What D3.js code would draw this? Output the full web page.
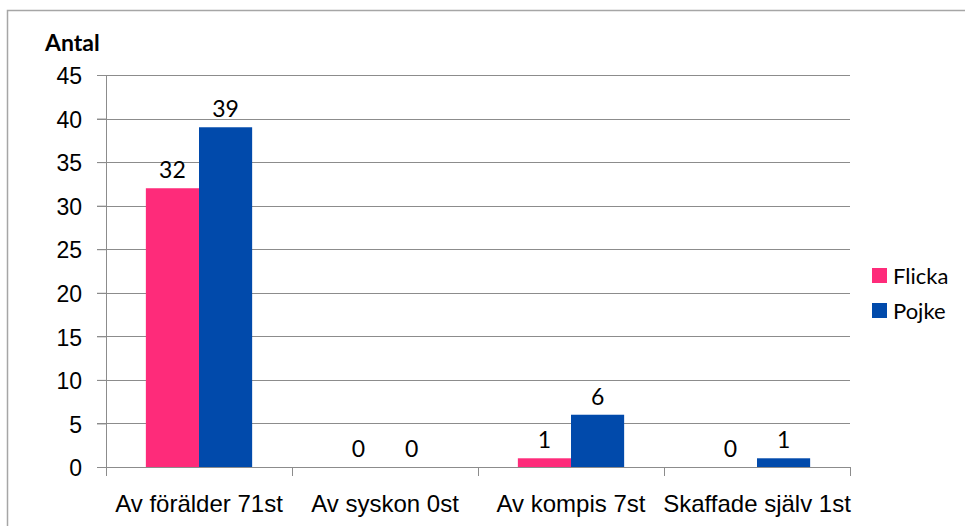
<!DOCTYPE html>
<html>
<head>
<meta charset="utf-8">
<script src="https://cdn.jsdelivr.net/npm/d3@7"></script>
<style>
  body { margin: 0; background: #fff; }
  svg { display: block; font-family: Lato, "Open Sans", sans-serif; }
</style>
</head>
<body>
<svg id="chart" width="965" height="526"></svg>
<script>
"use strict"

const categories = ["Av förälder 71st", "Av syskon 0st", "Av kompis 7st", "Skaffade själv 1st"]
const seriesNames = ["Flicka", "Pojke"]
const flicka = [32, 0, 1, 0]
const pojke = [39, 0, 6, 1]
const yTicks = [0, 5, 10, 15, 20, 25, 30, 35, 40, 45]
const colors = ["#fe2b7a", "#014aab"]

const svg = d3.select("#chart")
const margin = {left: 106, top: 75, right: 115, bottom: 59}
const width = 965 - margin.left - margin.right
const height = 526 - margin.top - margin.bottom

// outer chart border
svg.append("rect")
    .attr("x", 7.5).attr("y", 10.5)
    .attr("width", 970).attr("height", 530)
    .attr("fill", "none").attr("stroke", "#a6a6a6").attr("stroke-width", 1.5)

const g = svg.append("g").attr("transform", "translate(" + margin.left + "," + margin.top + ")")

const x = d3.scaleBand().domain(categories).range([0, width]).paddingInner(0).paddingOuter(0)
const y = d3.scaleLinear().domain([0, 45]).range([height, 0])

const inner = d3.scaleBand().domain(seriesNames).range([0, x.bandwidth()]).paddingInner(0).paddingOuter(0.75)

// gridlines
g.append("g")
    .selectAll("line")
    .data(yTicks.filter(d => d > 0))
    .join("line")
    .attr("x1", -9).attr("x2", width)
    .attr("y1", d => Math.round(y(d)) + 0.5).attr("y2", d => Math.round(y(d)) + 0.5)
    .attr("stroke", "#8c8c8c").attr("stroke-width", 1)

// y axis
const yAxis = g.append("g")
    .call(d3.axisLeft(y).tickValues(yTicks).tickSize(9).tickPadding(15))
yAxis.select(".domain").attr("stroke", "#8c8c8c")
yAxis.selectAll(".tick line").attr("stroke", "#8c8c8c")
yAxis.selectAll("text").style("font-size", "23px").attr("fill", "#000").attr("dy", "0.38em")

const data = categories.map((c, i) => ({cat: c, values: [flicka[i], pojke[i]]}))

const groups = g.selectAll(".grp").data(data).join("g")
    .attr("class", "grp")
    .attr("transform", d => "translate(" + x(d.cat) + ",0)")

groups.selectAll("rect")
    .data(d => d.values.map((v, j) => ({s: seriesNames[j], v: v, j: j})))
    .join("rect")
    .attr("x", d => inner(d.s))
    .attr("width", inner.bandwidth())
    .attr("y", d => y(d.v))
    .attr("height", d => height - y(d.v))
    .attr("fill", d => colors[d.j])

groups.selectAll(".lbl")
    .data(d => d.values.map((v, j) => ({s: seriesNames[j], v: v, j: j})))
    .join("text")
    .attr("class", "lbl")
    .attr("x", d => inner(d.s) + inner.bandwidth() / 2)
    .attr("y", d => y(d.v) - 10)
    .attr("text-anchor", "middle")
    .style("font-size", "23px")
    .text(d => d.v)

// x axis
const xAxis = g.append("g")
    .attr("transform", "translate(0," + height + ")")
    .call(d3.axisBottom(x).tickSize(0))
xAxis.select(".domain").attr("stroke", "#8c8c8c")
xAxis.selectAll("text")
    .attr("y", 45).attr("dy", 0)
    .style("font-size", "24px").attr("fill", "#000")
xAxis.append("g")
    .selectAll("line")
    .data(d3.range(categories.length + 1))
    .join("line")
    .attr("x1", i => Math.round(i * x.step()) + 0.5).attr("x2", i => Math.round(i * x.step()) + 0.5)
    .attr("y1", 0).attr("y2", 9)
    .attr("stroke", "#8c8c8c")

// axis title
svg.append("text")
    .attr("x", 45).attr("y", 51)
    .style("font-size", "23px").style("font-weight", "bold")
    .text("Antal")

// legend
const legend = svg.append("g").attr("transform", "translate(872,268)")
seriesNames.forEach((s, i) => {
    legend.append("rect")
        .attr("x", 0).attr("y", i * 35)
        .attr("width", 15).attr("height", 15)
        .attr("fill", colors[i])
    legend.append("text")
        .attr("x", 21).attr("y", i * 35 + 8)
        .attr("dy", "0.36em")
        .style("font-size", "22px")
        .text(s)
})
</script>
</body>
</html>
